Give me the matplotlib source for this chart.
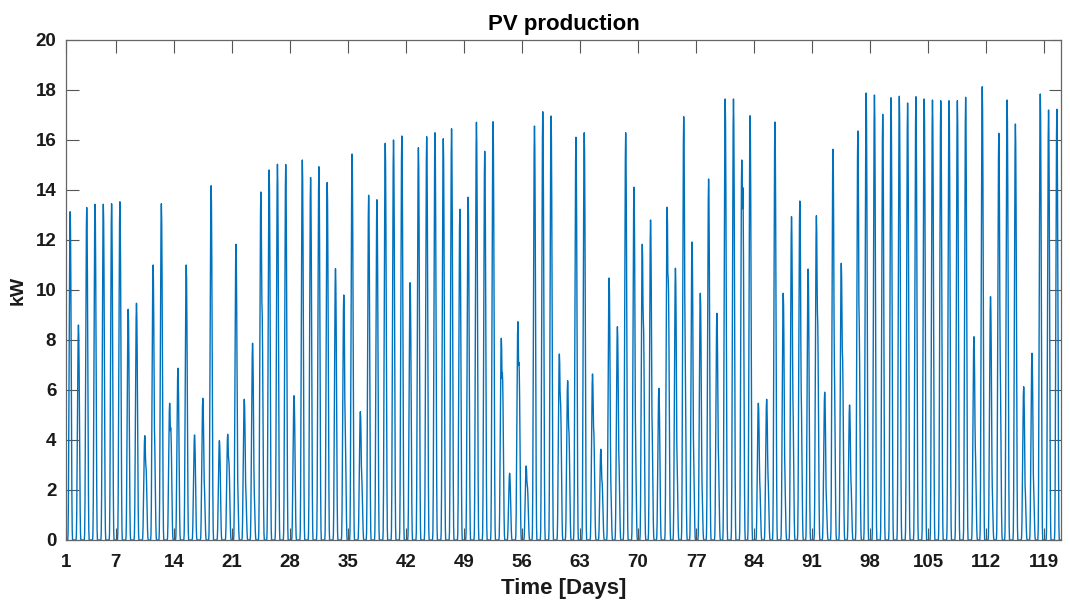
import numpy as np
import matplotlib
matplotlib.use("Agg")
import matplotlib.pyplot as plt

# daily peak of PV production [kW], day 1..120
peak = [13.13, 8.6, 13.3, 13.43, 13.43, 13.45, 13.53, 9.23, 9.47, 4.17,
        11.0, 13.45, 5.47, 6.87, 11.0, 4.2, 5.67, 14.17, 3.97, 4.23,
        11.83, 5.63, 7.87, 13.92, 14.8, 15.03, 15.02, 5.77, 15.2, 14.5,
        14.93, 14.3, 10.85, 9.8, 15.44, 5.13, 13.79, 13.61, 15.87, 16.0,
        16.16, 10.29, 15.69, 16.13, 16.29, 16.05, 16.45, 13.23, 13.71, 16.71,
        15.55, 16.73, 8.07, 2.67, 8.73, 2.96, 16.56, 17.13, 16.96, 7.44,
        6.37, 16.11, 16.29, 6.64, 3.63, 10.48, 8.53, 16.29, 14.11, 11.83,
        12.8, 6.07, 13.31, 10.87, 16.93, 11.92, 9.87, 14.44, 9.07, 17.64,
        17.64, 15.2, 16.97, 5.47, 5.63, 16.72, 9.87, 12.93, 13.56, 10.84,
        12.97, 5.91, 15.63, 11.07, 5.4, 16.36, 17.88, 17.8, 17.03, 17.69,
        17.75, 17.48, 17.73, 17.64, 17.6, 17.57, 17.57, 17.57, 17.71, 8.13,
        18.13, 9.73, 16.27, 17.6, 16.64, 6.13, 7.47, 17.84, 17.2, 17.23]

# second (cloudy afternoon) hump per day, 0 = clear day
shoulder = [0, 0, 0, 0, 0, 0, 0, 0, 0, 3.0,
            4.7, 0, 4.5, 0, 0, 0, 2.5, 0, 0, 3.2,
            3.0, 2.3, 2.4, 9.5, 0, 0, 0, 0, 0, 0,
            0, 0, 0, 5.1, 0, 2.7, 0, 0, 0, 0,
            0, 0, 0, 0, 0, 0, 0, 0, 0, 0,
            0, 0, 6.7, 0, 7.1, 2.2, 0, 0, 0, 5.6,
            4.5, 0, 0, 4.5, 2.4, 2.9, 3.7, 0, 4.4, 8.8,
            5.3, 0, 10.5, 3.9, 8.4, 4.1, 2.8, 0, 3.9, 0,
            0, 14.1, 0, 2.5, 2.7, 0, 3.1, 6.0, 6.3, 0,
            9.1, 2.0, 7.4, 7.6, 2.5, 9.1, 0, 0, 0, 0,
            0, 0, 0, 0, 0, 0, 0, 0, 0, 3.9,
            0, 2.7, 7.6, 0, 0, 2.3, 2.7, 0, 0, 0]

# normalised hourly clear-sky profile (hour 0..23)
shape = [0, 0, 0, 0, 0, 0, 0.02, 0.12, 0.32, 0.55, 0.78, 0.94,
         1.0, 0.95, 0.8, 0.58, 0.35, 0.14, 0.03, 0, 0, 0, 0, 0]

shape = np.array(shape)
shape_pm = np.roll(shape, 3)
power = []
for p, s in zip(peak, shoulder):
    day = p * shape
    if s > 0:
        day = np.maximum(day, s * shape_pm)
    power.extend(day)
power = np.array(power)
t = 1 + np.arange(len(power)) / 24.0

font = "Liberation Sans"
txt = "#1a1a1a"
fig = plt.figure(figsize=(10.70, 6.01), dpi=100)
ax = fig.add_axes([66 / 1070, 61 / 601, 995 / 1070, 500 / 601])
ax.plot(t, power, color="#0072BD", lw=1.0)

ax.set_xlim(1, 121)
ax.set_ylim(0, 20)
ax.set_xticks([1, 7, 14, 21, 28, 35, 42, 49, 56, 63, 70, 77, 84, 91, 98, 105, 112, 119])
ax.set_yticks(np.arange(0, 21, 2))
ax.tick_params(direction="in", length=9, width=0.8, color="#555555",
               top=True, right=True, labelsize=13.5, labelcolor=txt)
ax.tick_params(axis="x", pad=10)
ax.tick_params(axis="y", pad=7)
for lab in ax.get_xticklabels() + ax.get_yticklabels():
    lab.set_fontweight("bold")
    lab.set_fontfamily(font)
for sp in ax.spines.values():
    sp.set_color("#666666")
    sp.set_linewidth(0.9)

ax.set_title("PV production", fontsize=16, fontweight="bold", family=font,
             color="black", pad=7)
ax.set_xlabel("Time [Days]", fontsize=16, fontweight="bold", family=font,
              color=txt, labelpad=5)
ax.set_ylabel("kW", fontsize=14, fontweight="bold", family=font,
              color=txt, labelpad=6)

fig.savefig("out.png", dpi=100)
